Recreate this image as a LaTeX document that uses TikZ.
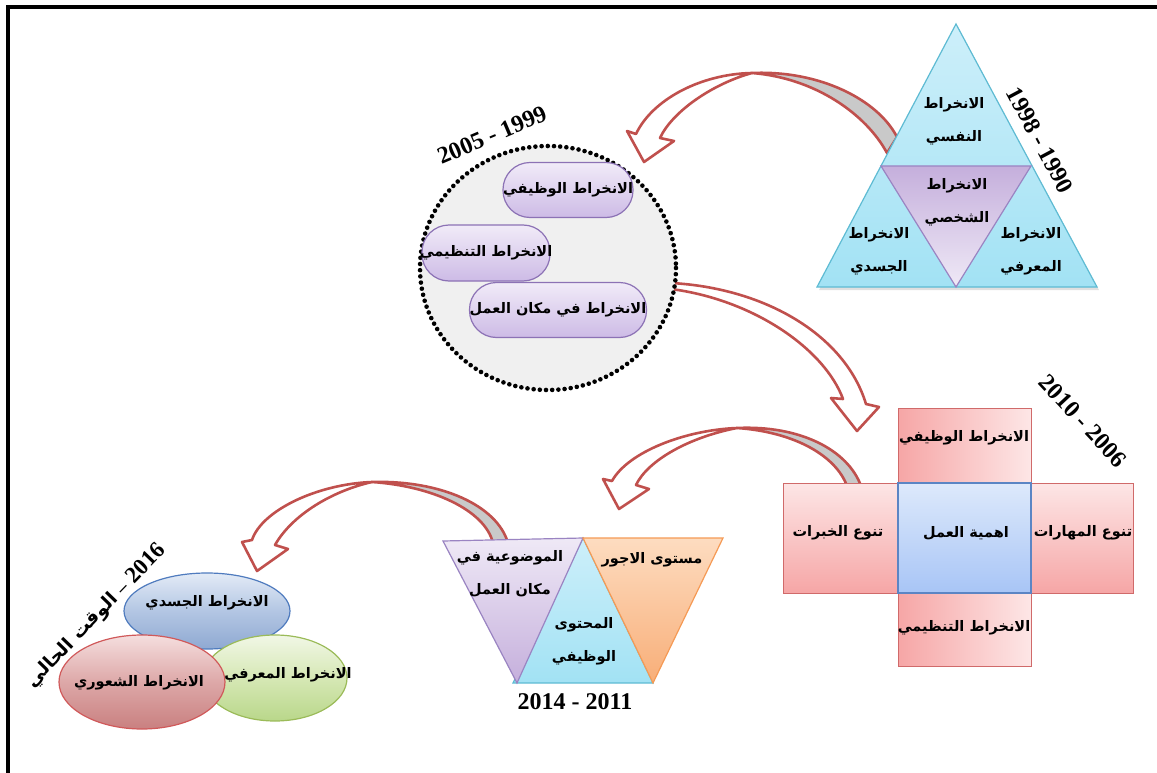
\documentclass[tikz,border=0pt]{standalone}
\usepackage{fontspec}
\setmainfont{Liberation Serif}
\newfontfamily\arfont[Script=Arabic]{DejaVu Sans}
\TeXXeTstate=1
\usetikzlibrary{shapes.geometric}
\newcommand{\AR}[1]{\beginR#1\endR}

\definecolor{arrowred}{HTML}{C0504D}
\definecolor{tailgray}{HTML}{C9C9C9}
\definecolor{cyanedge}{HTML}{5EBBD3}
\definecolor{cyantop}{HTML}{CDEFFA}
\definecolor{cyanbot}{HTML}{A2E2F4}
\definecolor{lilacedge}{HTML}{9A84C2}
\definecolor{lilacdark}{HTML}{C5AFDC}
\definecolor{lilaclight}{HTML}{EFE9F6}
\definecolor{pilltop}{HTML}{F1EBF8}
\definecolor{pillbot}{HTML}{CDBBE6}
\definecolor{pilledge}{HTML}{8C72B5}
\definecolor{circfill}{HTML}{F0F0F0}
\definecolor{pinkedge}{HTML}{D06A6A}
\definecolor{pinkdark}{HTML}{F6A6A6}
\definecolor{pinklight}{HTML}{FDE6E6}
\definecolor{bluetop}{HTML}{DDE9FB}
\definecolor{bluebot}{HTML}{A8C5F6}
\definecolor{blueedge}{HTML}{5B85C4}
\definecolor{orangeedge}{HTML}{F59A55}
\definecolor{orangetop}{HTML}{FDDCC0}
\definecolor{orangebot}{HTML}{F8AE78}
\definecolor{ovblue}{HTML}{8FA9D2}
\definecolor{ovbluemid}{HTML}{B3C6E3}
\definecolor{ovbluetop}{HTML}{E3EBF6}
\definecolor{ovblueedge}{HTML}{4F7BBE}
\definecolor{ovgreen}{HTML}{B9D78A}
\definecolor{ovgreenmid}{HTML}{D6E8B5}
\definecolor{ovgreentop}{HTML}{F1F7E6}
\definecolor{ovgreenedge}{HTML}{9BBB59}
\definecolor{ovred}{HTML}{C98080}
\definecolor{ovredmid}{HTML}{DDA8A8}
\definecolor{ovredtop}{HTML}{F5DEDE}
\definecolor{ovrededge}{HTML}{D0595A}

\begin{document}
\begin{tikzpicture}[x=1pt,y=-1pt,
  lbl/.style={font=\arfont\bfseries\fontsize{14.5}{33}\selectfont, align=center, inner sep=0pt},
  yr/.style={font=\bfseries\fontsize{24}{26}\selectfont, inner sep=0pt},
  band/.style={draw=arrowred, line width=2.6pt, line join=round},
  pill/.style={draw=pilledge, line width=1.2pt, rounded corners=27pt, top color=pilltop, bottom color=pillbot, inner sep=0pt},
  pinkbox/.style={draw=pinkedge, line width=1pt, inner sep=0pt},
  oval/.style={ellipse, inner sep=0pt, line width=1.2pt}]

\useasboundingbox (0,0) rectangle (1157,773);

% frame
\draw[line width=4pt] (8,773) -- (8,7) -- (1157,7);

% ---------- curved block arrows ----------
% 1990-1998 -> 1999-2005
\coordinate (a1x) at (752,73);
\coordinate (a1t1) at (897,137);
\coordinate (a1t2) at (887,153);
\coordinate (a1b1) at (636,134);
\coordinate (a1p1) at (627,131);
\coordinate (a1h) at (644,162);
\coordinate (a1p2) at (674,141);
\coordinate (a1b2) at (660,138);
\filldraw[band, fill=tailgray] (a1x) .. controls (820,70) and (878,100) .. (a1t1) -- (a1t2) .. controls (866,114) and (815,78) .. (a1x) -- cycle;
\filldraw[band, fill=white] (a1x) .. controls (700,74) and (652,100) .. (a1b1) -- (a1p1) -- (a1h) -- (a1p2) -- (a1b2) .. controls (672,112) and (712,84) .. (a1x) -- cycle;

% 1999-2005 -> 2006-2010
\coordinate (a2s1) at (671,283);
\coordinate (a2s2) at (671,289);
\coordinate (a2b2) at (866,404);
\coordinate (a2p2) at (879,407);
\coordinate (a2h) at (857,431);
\coordinate (a2p1) at (831,398);
\coordinate (a2b1) at (843,399);
\filldraw[band, fill=white] (a2s1) .. controls (765,288) and (845,335) .. (a2b2) -- (a2p2) -- (a2h) -- (a2p1) -- (a2b1) .. controls (825,350) and (755,300) .. (a2s2) -- cycle;

% 2006-2010 -> 2011-2014
\coordinate (a3x) at (737,428);
\coordinate (a3t1) at (861,486);
\coordinate (a3t2) at (847,486);
\coordinate (a3b1) at (612,481);
\coordinate (a3p1) at (603,479);
\coordinate (a3h) at (619,509);
\coordinate (a3p2) at (649,489);
\coordinate (a3b2) at (636,485);
\filldraw[band, fill=tailgray] (a3x) .. controls (800,425) and (848,450) .. (a3t1) -- (a3t2) .. controls (836,456) and (795,432) .. (a3x) -- cycle;
\filldraw[band, fill=white] (a3x) .. controls (685,430) and (628,452) .. (a3b1) -- (a3p1) -- (a3h) -- (a3p2) -- (a3b2) .. controls (648,460) and (690,437) .. (a3x) -- cycle;

% 2011-2014 -> 2016
\coordinate (a4x) at (372,482);
\coordinate (a4t1) at (508,543);
\coordinate (a4t2) at (493,543);
\coordinate (a4b1) at (252,540);
\coordinate (a4p1) at (242,542);
\coordinate (a4h) at (257,571);
\coordinate (a4p2) at (288,549);
\coordinate (a4b2) at (275,545);
\filldraw[band, fill=tailgray] (a4x) .. controls (440,480) and (497,505) .. (a4t1) -- (a4t2) .. controls (485,510) and (432,486) .. (a4x) -- cycle;
\filldraw[band, fill=white] (a4x) .. controls (318,484) and (262,510) .. (a4b1) -- (a4p1) -- (a4h) -- (a4p2) -- (a4b2) .. controls (292,515) and (332,491) .. (a4x) -- cycle;

% ---------- 1990-1998: triangle ----------
\coordinate (t1a) at (956,24);
\coordinate (t1l) at (817,287);
\coordinate (t1r) at (1097,287);
\coordinate (t1ml) at (881,166);
\coordinate (t1mr) at (1031,166);
\coordinate (t1mb) at (956,287);
\fill[black, opacity=0.12] ([shift={(2,3)}]t1a) -- ([shift={(2,3)}]t1l) -- ([shift={(2,3)}]t1r) -- cycle;
\draw[cyanedge, line width=1.2pt, top color=cyantop, bottom color=cyanbot] (t1a) -- (t1l) -- (t1r) -- cycle;
\draw[lilacedge, line width=1.2pt, top color=lilacdark, bottom color=lilaclight] (t1ml) -- (t1mr) -- (t1mb) -- cycle;
\node[lbl] (n1a) at (954,121) {\AR{الانخراط}\\\AR{النفسي}};
\node[lbl] (n1b) at (957,202) {\AR{الانخراط}\\\AR{الشخصي}};
\node[lbl] (n1c) at (879,251) {\AR{الانخراط}\\\AR{الجسدي}};
\node[lbl] (n1d) at (1031,251) {\AR{الانخراط}\\\AR{المعرفي}};
\node[yr, rotate=-62] (y1) at (1040,140) {1998 - 1990};

% ---------- 1999-2005: dotted circle ----------
\node[ellipse, fill=circfill, minimum width=256, minimum height=244, inner sep=0pt] (circ) at (548,268) {};
\draw[line width=4.6pt, dash pattern=on 0pt off 6.2pt, line cap=round] (548,268) ellipse [x radius=128, y radius=122];
\node[pill, minimum width=130, minimum height=55] (p1) at (568,190) {};
\node[pill, minimum width=128, minimum height=56] (p2) at (486,253) {};
\node[pill, minimum width=177, minimum height=55] (p3) at (558,310) {};
\node[lbl] at (p1) {\AR{الانخراط الوظيفي}};
\node[lbl] at (p2) {\AR{الانخراط التنظيمي}};
\node[lbl] at (p3) {\AR{الانخراط في مكان العمل}};
\node[yr, rotate=23] (y2) at (492,135) {2005 - 1999};

% ---------- 2006-2010: cross of boxes ----------
\path[pinkbox, left color=pinkdark, right color=pinklight] (898,408) rectangle (1031,483);
\path[pinkbox, left color=pinkdark, right color=pinklight] (898,593) rectangle (1031,666);
\path[pinkbox, top color=pinklight, bottom color=pinkdark] (783,483) rectangle (898,593);
\path[pinkbox, top color=pinklight, bottom color=pinkdark] (1031,483) rectangle (1133,593);
\path[draw=blueedge, line width=1.3pt, top color=bluetop, bottom color=bluebot] (898,483) rectangle (1031,593);
\node[lbl] (c1) at (964,438) {\AR{الانخراط الوظيفي}};
\node[lbl] (c2) at (964,628) {\AR{الانخراط التنظيمي}};
\node[lbl] (c3) at (838,533) {\AR{تنوع الخبرات}};
\node[lbl] (c4) at (966,533) {\AR{اهمية العمل}};
\node[lbl] (c5) at (1083,533) {\AR{تنوع المهارات}};
\node[yr, rotate=-47] (y3) at (1083,421) {2010 - 2006};

% ---------- 2011-2014: three triangles ----------
\draw[cyanedge, line width=1.2pt, top color=cyantop, bottom color=cyanbot] (583,538) -- (513,683) -- (653,683) -- cycle;
\draw[lilacedge, line width=1.2pt, top color=lilaclight, bottom color=lilacdark] (443,541) -- (583,538) -- (517,683) -- cycle;
\draw[orangeedge, line width=1.2pt, top color=orangetop, bottom color=orangebot] (583,538) -- (723,538) -- (653,683) -- cycle;
\node[lbl] (g1) at (510,574) {\AR{الموضوعية في}\\\AR{مكان العمل}};
\node[lbl] (g2) at (652,560) {\AR{مستوى الاجور}};
\node[lbl] (g3) at (584,641) {\AR{المحتوى}\\\AR{الوظيفي}};
\node[yr] (y4) at (575,702) {2014 - 2011};

% ---------- 2016: three ovals ----------
\node[oval, draw=ovblueedge, minimum width=166, minimum height=76, top color=ovbluetop, bottom color=ovblue, middle color=ovbluemid] (e1) at (207,611) {};
\node[oval, draw=ovgreenedge, minimum width=144, minimum height=86, top color=ovgreentop, bottom color=ovgreen, middle color=ovgreenmid] (e2) at (275,678) {};
\node[oval, draw=ovrededge, minimum width=166, minimum height=94, top color=ovredtop, bottom color=ovred, middle color=ovredmid] (e3) at (142,682) {};
\node[lbl] at (207,603) {\AR{الانخراط الجسدي}};
\node[lbl] at (288,675) {\AR{الانخراط المعرفي}};
\node[lbl] at (139,683) {\AR{الانخراط الشعوري}};
\node[font=\arfont\bfseries\fontsize{18.5}{20}\selectfont, inner sep=0pt, rotate=46] (y5) at (96,616) {\beginR\beginL{\rmfamily\fontsize{23}{24}\selectfont 2016}\endL{} {\rmfamily –} الوقت الحالي\endR};

\end{tikzpicture}
\end{document}
